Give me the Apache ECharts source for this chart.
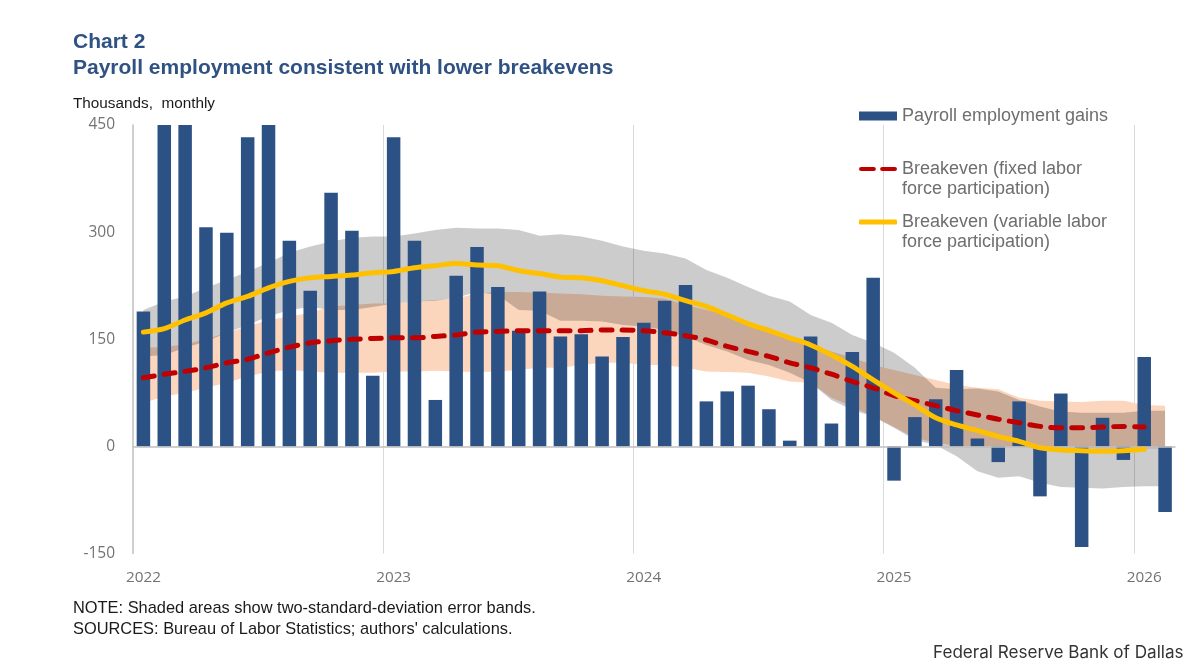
<!DOCTYPE html>
<html><head><meta charset="utf-8">
<style>html,body{margin:0;padding:0;background:#fff}#c{width:1200px;height:669px}</style>
<script src="https://cdn.jsdelivr.net/npm/echarts@6/dist/echarts.min.js"></script>
</head><body><div id="c"></div>
<script>
const yearOf = [2022,2023,2024,2025,2026];
const monthsPerYear = [12,12,12,12,2];
const months = [];
yearOf.forEach((y,k)=>{for(let m=1;m<=monthsPerYear[k];m++)months.push(y+'-'+String(m).padStart(2,'0'));});

const payroll = [189,450,450,307,299,433,450,288,218,355,302,99,
 433,288,65,239,279,223,162,217,154,157,126,153,
 173,204,226,63,77,85,52,8,154,32,132,236,
 -48,41,66,107,11,-22,63,-70,74,-141,40,-19,
 125,-92];
const breakevenFixed = [96,101,105,110,117,122,131,139,145,148,150,151,
 152,152,154,156,160,161,162,162,162,162,163,163,
 162,159,155,149,140,133,126,117,110,101,91,82,
 71,64,57,50,44,38,33,28,26,26,27,28,
 27];
const breakevenVariable = [160,165,177,187,201,210,222,231,236,238,240,243,
 245,250,253,256,254,253,246,242,237,236,232,225,
 218,213,204,196,184,172,162,152,142,128,112,93,
 75,58,40,30,22,14,7,-2,-5,-6,-7,-6,
 -4];
const grayUpper = [191,203,210,222,233,245,257,271,280,287,292,294,
 294,298,303,306,305,305,303,295,297,294,288,280,
 274,270,263,247,236,223,211,203,184,173,156,145,
 131,110,82,80,81,77,65,56,49,47,47,47,
 50,50];
const grayLower = [126,128,138,147,159,170,182,191,195,191,191,195,
 200,203,204,208,216,212,191,190,176,176,175,170,
 168,163,154,142,133,121,114,103,89,65,51,42,
 26,9,2,-14,-35,-44,-42,-51,-57,-58,-59,-57,
 -56,-56];
const peachUpper = [138,139,143,150,159,168,177,182,187,196,198,200,
 200,203,205,207,214,216,216,215,214,213,211,210,
 209,207,198,191,184,173,166,154,142,133,124,114,
 107,100,93,86,82,80,68,64,63,62,64,64,
 58,57];
const peachLower = [61,70,75,82,89,98,105,107,105,103,103,103,
 105,105,106,105,104,105,107,110,110,114,117,117,
 114,114,110,105,104,103,98,91,89,68,56,42,
 27,12,5,1,0,0,0,0,-1,-2,-3,-3,
 -3,-3];
const yTicks = {min:-150,max:450,interval:150};
const legendNames = {bars:'Payroll employment gains',fixed:'Breakeven (fixed labor\nforce participation)',variable:'Breakeven (variable labor\nforce participation)'};

const band = (name,upper,lower,color,z)=>({
  type:'custom',name,coordinateSystem:'cartesian2d',silent:true,z,
  clip:true,legendHoverLink:false,
  data:months.map((m,i)=>[i,lower[i],upper[i]]),
  encode:{x:0,y:[1,2]},
  renderItem(params,api){
    if(params.dataIndex!==0) return null;
    const top=upper.map((v,i)=>api.coord([i,v]));
    const bot=lower.map((v,i)=>api.coord([i,v])).reverse();
    return {type:'polygon',shape:{points:top.concat(bot)},style:{fill:color}};
  }
});

const chart=echarts.init(document.getElementById('c'),null,{renderer:'canvas'});
const sans='"Liberation Sans",Arial,sans-serif';
const legendBase={orient:'vertical',itemWidth:38,itemGap:0,padding:0,selectedMode:false,
  textStyle:{color:'#6e6e6e',fontFamily:sans,fontSize:18,lineHeight:20}};
const titleText=(text,top,size,color,weight,font,left)=>({text,left:left||73,top,padding:0,
  textStyle:{color,fontFamily:font||sans,fontWeight:weight,fontSize:size}});
chart.setOption({
  backgroundColor:'#fff',animation:false,
  title:[
   titleText('Chart 2',32,21,'#2f5283','bold'),
   titleText('Payroll employment consistent with lower breakevens',58,21,'#2f5283','bold'),
   titleText('Thousands,  monthly',96,15.3,'#1a1a1a','normal'),
   titleText('NOTE: Shaded areas show two-standard-deviation error bands.',600,16.4,'#1a1a1a','normal'),
   titleText("SOURCES: Bureau of Labor Statistics; authors' calculations.",621,16.4,'#1a1a1a','normal'),
   titleText('Federal Reserve Bank of Dallas',644,17.1,'#333','normal','Inter',933)
  ],
  legend:[
   Object.assign({},legendBase,{data:[{name:legendNames.bars,icon:'rect'}],left:859,top:106,itemHeight:9}),
   Object.assign({},legendBase,{data:[{name:legendNames.fixed,icon:'path://M2,0H14A2,2 0 0 1 14,4H2A2,2 0 0 1 2,0ZM22,0H34A2,2 0 0 1 34,4H22A2,2 0 0 1 22,0Z'}],left:859,top:139,itemHeight:6,
     formatter:n=>'\n'+n}),
   Object.assign({},legendBase,{data:[{name:legendNames.variable,icon:'roundRect'}],left:859,top:192,itemHeight:5,
     formatter:n=>'\n'+n})
  ],
  grid:{left:133,right:24.5,top:125,bottom:115.5,containLabel:false},
  xAxis:{type:'category',data:months,boundaryGap:true,
    axisLine:{show:false,onZero:false},axisTick:{show:false},
    axisLabel:{interval:i=>i%12===0,formatter:v=>v.slice(0,4),color:'#737373',fontFamily:'"Open Sans"',fontSize:15.3,margin:17},
    splitLine:{show:true,showMinLine:false,showMaxLine:false,interval:i=>i%12===0,lineStyle:{color:'#d9d9d9',width:1}}},
  yAxis:{type:'value',min:yTicks.min,max:yTicks.max,interval:yTicks.interval,
    axisLine:{show:true,onZero:false,lineStyle:{color:'#bfbfbf',width:1.5}},axisTick:{show:false},splitLine:{show:false},
    axisLabel:{color:'#737373',fontFamily:'"Open Sans"',fontSize:15.5,margin:18,padding:[3,0,0,0]}},
  series:[
   band('Peach band',peachUpper,peachLower,'#fbd5bc',1),
   band('Gray band',grayUpper,grayLower,'rgba(0,0,0,0.2)',1),
   {type:'bar',name:legendNames.bars,data:payroll,barWidth:13.5,z:2,itemStyle:{color:'#2c5285'},
    markLine:{silent:true,symbol:'none',label:{show:false},z:3,data:[{yAxis:0}],lineStyle:{color:'#bfbfbf',width:1.5,type:'solid'}}},
   {type:'line',name:legendNames.fixed,data:breakevenFixed,symbol:'none',smooth:0.3,z:4,lineStyle:{color:'#c00000',width:5,type:[11,10],cap:'round'},itemStyle:{color:'#c00000'}},
   {type:'line',name:legendNames.variable,data:breakevenVariable,symbol:'none',smooth:0.3,z:5,lineStyle:{color:'#ffc000',width:5,cap:'round'},itemStyle:{color:'#ffc000'}}
  ]
});
</script></body></html>
